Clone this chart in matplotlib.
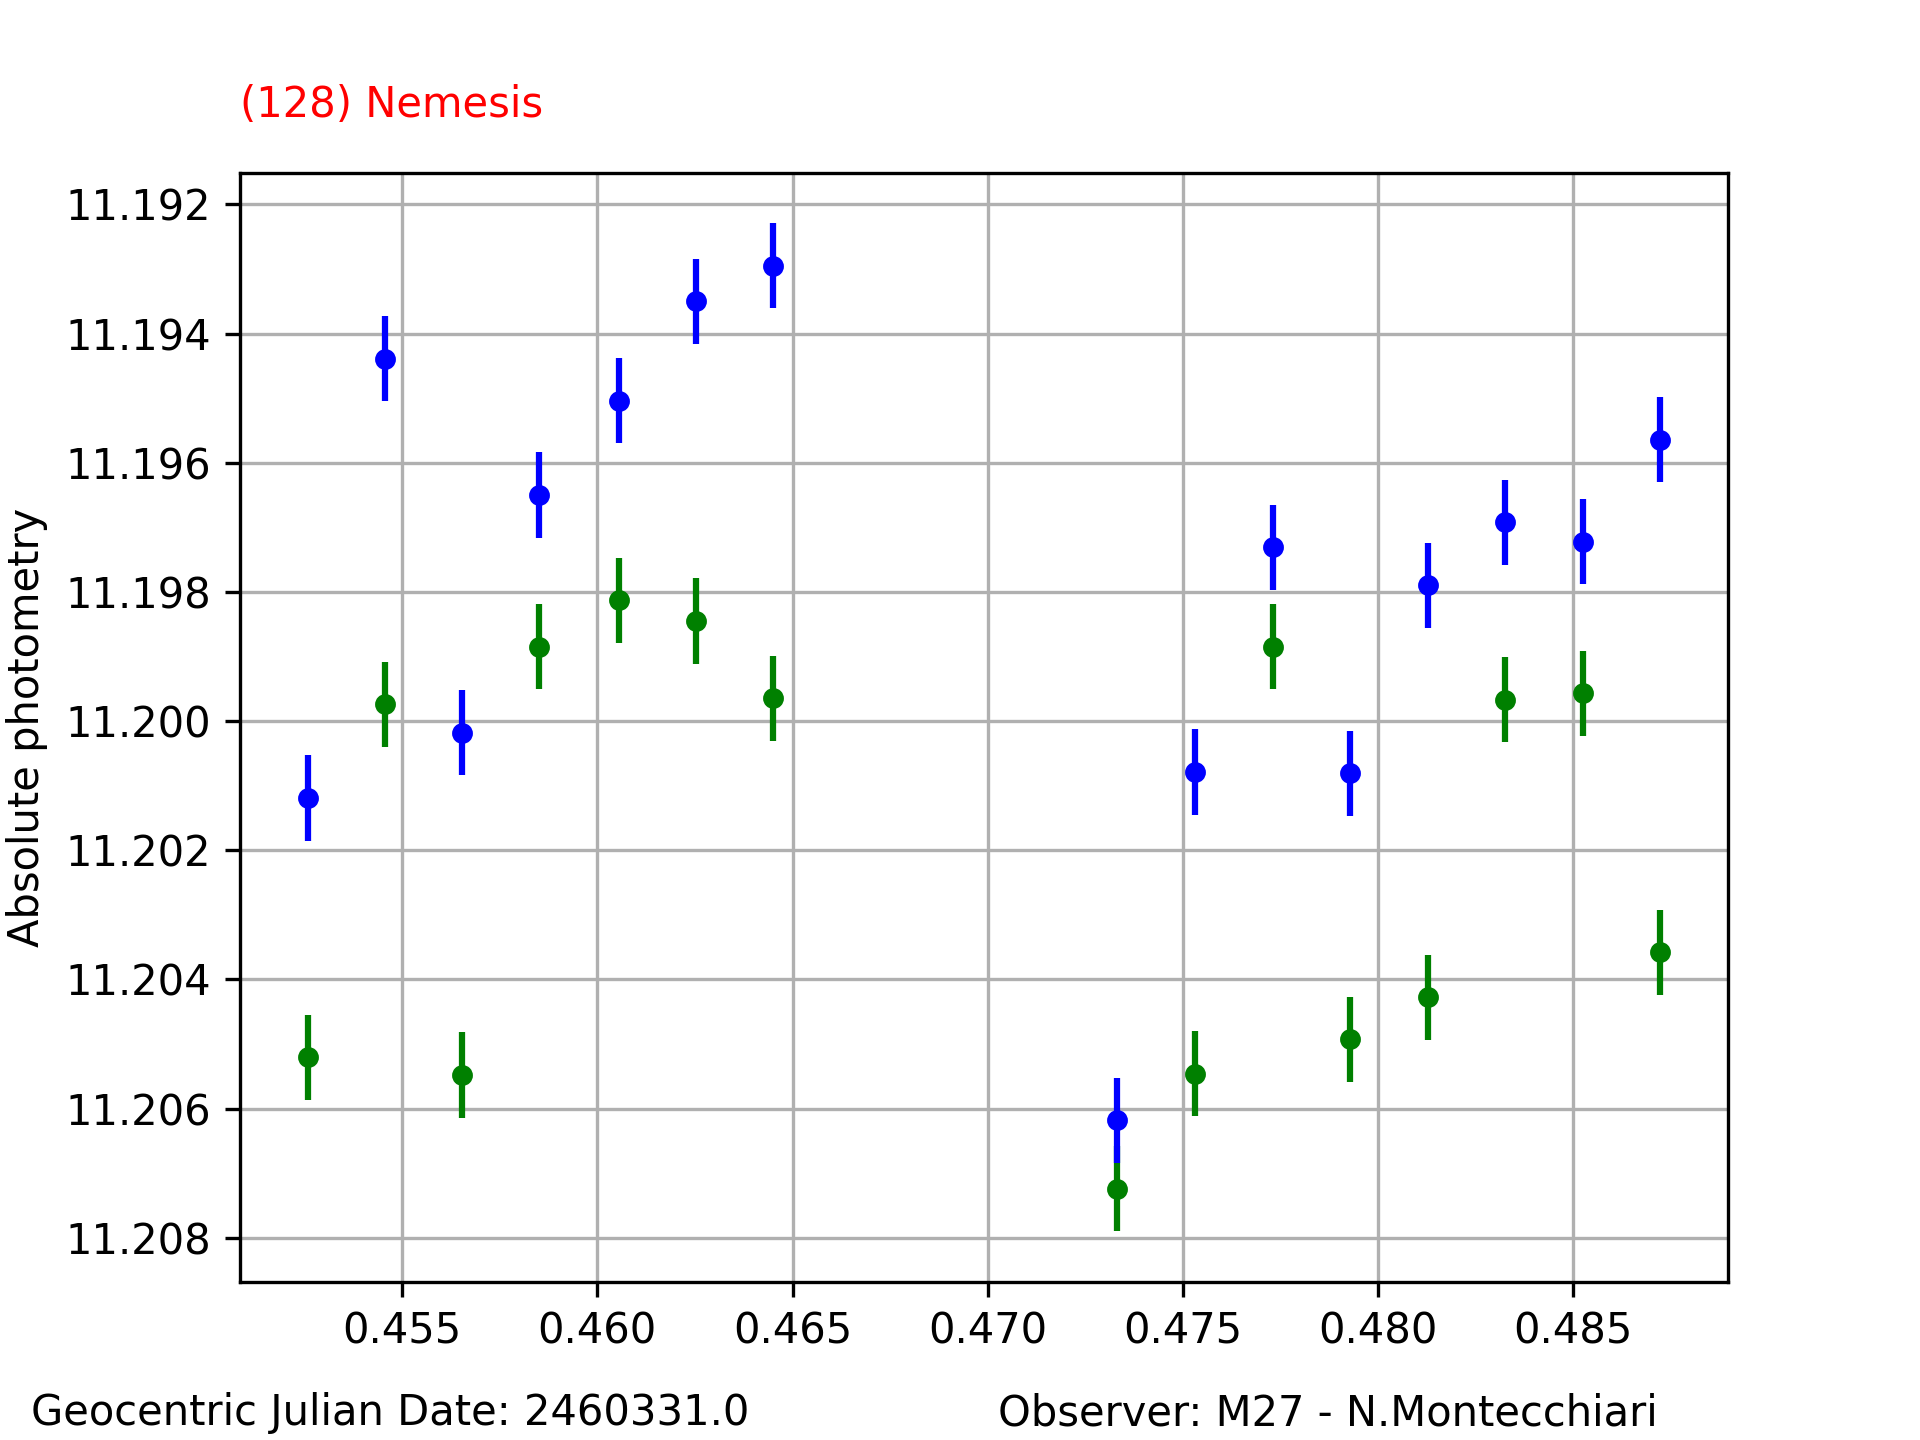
import matplotlib
matplotlib.use("Agg")
import matplotlib.pyplot as plt

# time (fraction of JD) and magnitudes
jd = [0.45258, 0.45456, 0.45654, 0.45851, 0.46055, 0.46253, 0.46451,
      0.47330, 0.47530, 0.47731, 0.47929, 0.48127, 0.48324, 0.48525, 0.48723]
mag_blue = [11.20119, 11.19439, 11.20018, 11.19650, 11.19504, 11.19350, 11.19295,
            11.20618, 11.20079, 11.19731, 11.20081, 11.19790, 11.19692, 11.19722, 11.19564]
mag_green = [11.20521, 11.19974, 11.20548, 11.19885, 11.19813, 11.19845, 11.19965,
             11.20724, 11.20546, 11.19885, 11.20493, 11.20428, 11.19967, 11.19957, 11.20358]
err = [0.00066] * len(jd)

fig = plt.figure(figsize=(6.4, 4.8), dpi=300)
ax = fig.add_subplot(111)

ax.errorbar(jd, mag_green, yerr=err, fmt='o', color='green', markersize=4, elinewidth=1.5)
ax.errorbar(jd, mag_blue, yerr=err, fmt='o', color='blue', markersize=4, elinewidth=1.5)

ax.invert_yaxis()
ax.set_ylabel("Absolute photometry")
ax.grid(True)

fig.text(0.125, 0.919, "(128) Nemesis", color='red')
fig.text(0.016, 0.0104, "Geocentric Julian Date: 2460331.0")
fig.text(0.52, 0.0104, "Observer: M27 - N.Montecchiari")

plt.savefig("out.png", dpi=300)
